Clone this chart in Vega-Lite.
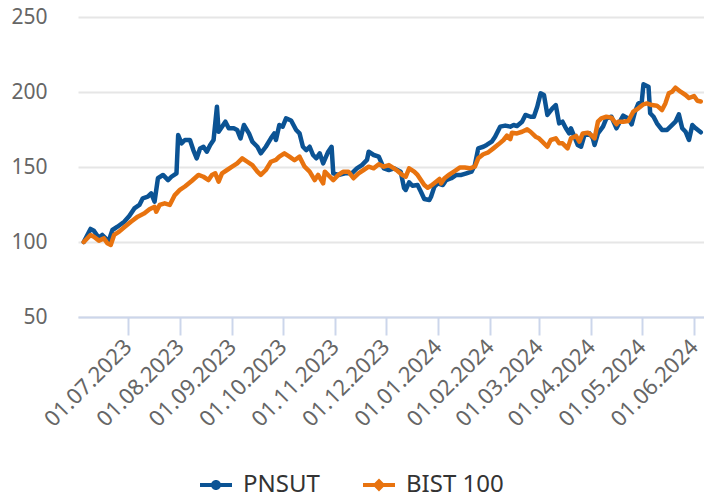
{
  "$schema": "https://vega.github.io/schema/vega-lite/v6.json",
  "width": 626,
  "height": 300,
  "autosize": {"type": "none"},
  "padding": {"left": 78, "top": 17, "right": 0, "bottom": 182},
  "config": {
    "view": {"stroke": null},
    "font": "Noto Sans"
  },
  "datasets": {
    "series": [
      {"s":"PNSUT","d":"2023-06-05","v":100},{"s":"PNSUT","d":"2023-06-09","v":108.7},{"s":"PNSUT","d":"2023-06-11","v":107.5},{"s":"PNSUT","d":"2023-06-14","v":102.7},{"s":"PNSUT","d":"2023-06-16","v":104.7},{"s":"PNSUT","d":"2023-06-18","v":102.4},{"s":"PNSUT","d":"2023-06-20","v":101.3},{"s":"PNSUT","d":"2023-06-22","v":108},{"s":"PNSUT","d":"2023-06-25","v":110.2},{"s":"PNSUT","d":"2023-06-29","v":113.5},{"s":"PNSUT","d":"2023-07-02","v":117.3},{"s":"PNSUT","d":"2023-07-05","v":122.4},{"s":"PNSUT","d":"2023-07-08","v":124.7},{"s":"PNSUT","d":"2023-07-10","v":129.1},{"s":"PNSUT","d":"2023-07-13","v":130.2},{"s":"PNSUT","d":"2023-07-15","v":132.4},{"s":"PNSUT","d":"2023-07-17","v":126.9},{"s":"PNSUT","d":"2023-07-19","v":142.5},{"s":"PNSUT","d":"2023-07-22","v":144.7},{"s":"PNSUT","d":"2023-07-25","v":141.3},{"s":"PNSUT","d":"2023-07-27","v":143.5},{"s":"PNSUT","d":"2023-07-30","v":145.8},{"s":"PNSUT","d":"2023-07-31","v":171.3},{"s":"PNSUT","d":"2023-08-02","v":165.8},{"s":"PNSUT","d":"2023-08-04","v":168},{"s":"PNSUT","d":"2023-08-07","v":168},{"s":"PNSUT","d":"2023-08-09","v":161.3},{"s":"PNSUT","d":"2023-08-11","v":155.8},{"s":"PNSUT","d":"2023-08-13","v":162.4},{"s":"PNSUT","d":"2023-08-15","v":163.5},{"s":"PNSUT","d":"2023-08-17","v":160.2},{"s":"PNSUT","d":"2023-08-19","v":164.7},{"s":"PNSUT","d":"2023-08-21","v":168},{"s":"PNSUT","d":"2023-08-23","v":190.2},{"s":"PNSUT","d":"2023-08-24","v":173.5},{"s":"PNSUT","d":"2023-08-26","v":176.9},{"s":"PNSUT","d":"2023-08-28","v":180.2},{"s":"PNSUT","d":"2023-08-30","v":175.8},{"s":"PNSUT","d":"2023-09-02","v":175.8},{"s":"PNSUT","d":"2023-09-04","v":174.7},{"s":"PNSUT","d":"2023-09-06","v":169.1},{"s":"PNSUT","d":"2023-09-08","v":178},{"s":"PNSUT","d":"2023-09-11","v":172.4},{"s":"PNSUT","d":"2023-09-13","v":166.9},{"s":"PNSUT","d":"2023-09-16","v":163.5},{"s":"PNSUT","d":"2023-09-18","v":159.1},{"s":"PNSUT","d":"2023-09-21","v":163.5},{"s":"PNSUT","d":"2023-09-24","v":169.1},{"s":"PNSUT","d":"2023-09-26","v":172.4},{"s":"PNSUT","d":"2023-09-27","v":168},{"s":"PNSUT","d":"2023-09-29","v":178},{"s":"PNSUT","d":"2023-10-01","v":176.9},{"s":"PNSUT","d":"2023-10-03","v":182.4},{"s":"PNSUT","d":"2023-10-06","v":181},{"s":"PNSUT","d":"2023-10-09","v":174.7},{"s":"PNSUT","d":"2023-10-11","v":172.4},{"s":"PNSUT","d":"2023-10-13","v":163.5},{"s":"PNSUT","d":"2023-10-15","v":161.3},{"s":"PNSUT","d":"2023-10-17","v":163.5},{"s":"PNSUT","d":"2023-10-19","v":158},{"s":"PNSUT","d":"2023-10-21","v":155.8},{"s":"PNSUT","d":"2023-10-23","v":159.1},{"s":"PNSUT","d":"2023-10-25","v":152.4},{"s":"PNSUT","d":"2023-10-28","v":160.2},{"s":"PNSUT","d":"2023-10-30","v":163.5},{"s":"PNSUT","d":"2023-10-31","v":145.8},{"s":"PNSUT","d":"2023-11-03","v":144.7},{"s":"PNSUT","d":"2023-11-07","v":145.8},{"s":"PNSUT","d":"2023-11-11","v":145.8},{"s":"PNSUT","d":"2023-11-14","v":149.1},{"s":"PNSUT","d":"2023-11-17","v":151.3},{"s":"PNSUT","d":"2023-11-20","v":154.7},{"s":"PNSUT","d":"2023-11-21","v":160.2},{"s":"PNSUT","d":"2023-11-24","v":158},{"s":"PNSUT","d":"2023-11-27","v":156.9},{"s":"PNSUT","d":"2023-11-30","v":149.1},{"s":"PNSUT","d":"2023-12-03","v":148},{"s":"PNSUT","d":"2023-12-06","v":149.1},{"s":"PNSUT","d":"2023-12-08","v":148},{"s":"PNSUT","d":"2023-12-10","v":146.9},{"s":"PNSUT","d":"2023-12-12","v":136},{"s":"PNSUT","d":"2023-12-13","v":134.7},{"s":"PNSUT","d":"2023-12-15","v":139.8},{"s":"PNSUT","d":"2023-12-17","v":137.5},{"s":"PNSUT","d":"2023-12-20","v":138},{"s":"PNSUT","d":"2023-12-22","v":133.5},{"s":"PNSUT","d":"2023-12-24","v":128.7},{"s":"PNSUT","d":"2023-12-27","v":128},{"s":"PNSUT","d":"2023-12-28","v":130.2},{"s":"PNSUT","d":"2023-12-30","v":136.9},{"s":"PNSUT","d":"2024-01-01","v":139.1},{"s":"PNSUT","d":"2024-01-04","v":138},{"s":"PNSUT","d":"2024-01-06","v":141.3},{"s":"PNSUT","d":"2024-01-09","v":142.5},{"s":"PNSUT","d":"2024-01-12","v":144.7},{"s":"PNSUT","d":"2024-01-15","v":144.7},{"s":"PNSUT","d":"2024-01-18","v":145.8},{"s":"PNSUT","d":"2024-01-21","v":146.9},{"s":"PNSUT","d":"2024-01-23","v":151.3},{"s":"PNSUT","d":"2024-01-25","v":162.4},{"s":"PNSUT","d":"2024-01-28","v":163.5},{"s":"PNSUT","d":"2024-01-30","v":164.7},{"s":"PNSUT","d":"2024-02-02","v":166.9},{"s":"PNSUT","d":"2024-02-04","v":170.2},{"s":"PNSUT","d":"2024-02-07","v":176.9},{"s":"PNSUT","d":"2024-02-10","v":177.6},{"s":"PNSUT","d":"2024-02-13","v":176.9},{"s":"PNSUT","d":"2024-02-15","v":178},{"s":"PNSUT","d":"2024-02-17","v":177.3},{"s":"PNSUT","d":"2024-02-20","v":180.2},{"s":"PNSUT","d":"2024-02-22","v":184.7},{"s":"PNSUT","d":"2024-02-25","v":183.5},{"s":"PNSUT","d":"2024-02-27","v":183.5},{"s":"PNSUT","d":"2024-02-29","v":190.2},{"s":"PNSUT","d":"2024-03-02","v":199.1},{"s":"PNSUT","d":"2024-03-04","v":198},{"s":"PNSUT","d":"2024-03-06","v":184.7},{"s":"PNSUT","d":"2024-03-09","v":189.1},{"s":"PNSUT","d":"2024-03-11","v":191.3},{"s":"PNSUT","d":"2024-03-13","v":179.1},{"s":"PNSUT","d":"2024-03-15","v":180.2},{"s":"PNSUT","d":"2024-03-17","v":175.8},{"s":"PNSUT","d":"2024-03-19","v":172.4},{"s":"PNSUT","d":"2024-03-20","v":175.8},{"s":"PNSUT","d":"2024-03-22","v":170.2},{"s":"PNSUT","d":"2024-03-24","v":164.7},{"s":"PNSUT","d":"2024-03-26","v":163.5},{"s":"PNSUT","d":"2024-03-28","v":171.3},{"s":"PNSUT","d":"2024-03-31","v":172.4},{"s":"PNSUT","d":"2024-04-02","v":169.1},{"s":"PNSUT","d":"2024-04-03","v":164.7},{"s":"PNSUT","d":"2024-04-05","v":172.4},{"s":"PNSUT","d":"2024-04-08","v":176.9},{"s":"PNSUT","d":"2024-04-10","v":182.4},{"s":"PNSUT","d":"2024-04-13","v":183.5},{"s":"PNSUT","d":"2024-04-16","v":175.8},{"s":"PNSUT","d":"2024-04-18","v":180.2},{"s":"PNSUT","d":"2024-04-20","v":184.2},{"s":"PNSUT","d":"2024-04-23","v":182.4},{"s":"PNSUT","d":"2024-04-25","v":178.4},{"s":"PNSUT","d":"2024-04-27","v":186.9},{"s":"PNSUT","d":"2024-04-29","v":192.4},{"s":"PNSUT","d":"2024-05-01","v":193.5},{"s":"PNSUT","d":"2024-05-02","v":205.1},{"s":"PNSUT","d":"2024-05-05","v":203.5},{"s":"PNSUT","d":"2024-05-06","v":185.8},{"s":"PNSUT","d":"2024-05-08","v":183.5},{"s":"PNSUT","d":"2024-05-10","v":179.1},{"s":"PNSUT","d":"2024-05-13","v":174.7},{"s":"PNSUT","d":"2024-05-16","v":174.7},{"s":"PNSUT","d":"2024-05-18","v":176.9},{"s":"PNSUT","d":"2024-05-21","v":180.2},{"s":"PNSUT","d":"2024-05-23","v":185.1},{"s":"PNSUT","d":"2024-05-25","v":175.8},{"s":"PNSUT","d":"2024-05-27","v":173.5},{"s":"PNSUT","d":"2024-05-29","v":168},{"s":"PNSUT","d":"2024-05-31","v":178},{"s":"PNSUT","d":"2024-06-02","v":175.8},{"s":"PNSUT","d":"2024-06-05","v":173.1},
      {"s":"BIST 100","d":"2023-06-05","v":100},{"s":"BIST 100","d":"2023-06-09","v":104.7},{"s":"BIST 100","d":"2023-06-11","v":103.5},{"s":"BIST 100","d":"2023-06-14","v":100.9},{"s":"BIST 100","d":"2023-06-17","v":102.4},{"s":"BIST 100","d":"2023-06-19","v":99.1},{"s":"BIST 100","d":"2023-06-21","v":98},{"s":"BIST 100","d":"2023-06-23","v":104.7},{"s":"BIST 100","d":"2023-06-26","v":106.9},{"s":"BIST 100","d":"2023-06-29","v":109.8},{"s":"BIST 100","d":"2023-07-03","v":113.5},{"s":"BIST 100","d":"2023-07-07","v":116.9},{"s":"BIST 100","d":"2023-07-11","v":119.1},{"s":"BIST 100","d":"2023-07-14","v":121.8},{"s":"BIST 100","d":"2023-07-17","v":123.5},{"s":"BIST 100","d":"2023-07-18","v":120.2},{"s":"BIST 100","d":"2023-07-20","v":124.7},{"s":"BIST 100","d":"2023-07-23","v":125.8},{"s":"BIST 100","d":"2023-07-26","v":124.7},{"s":"BIST 100","d":"2023-07-29","v":131.3},{"s":"BIST 100","d":"2023-08-01","v":134.7},{"s":"BIST 100","d":"2023-08-04","v":137},{"s":"BIST 100","d":"2023-08-08","v":140.7},{"s":"BIST 100","d":"2023-08-12","v":144.7},{"s":"BIST 100","d":"2023-08-15","v":143.5},{"s":"BIST 100","d":"2023-08-18","v":141.3},{"s":"BIST 100","d":"2023-08-20","v":144.7},{"s":"BIST 100","d":"2023-08-22","v":145.8},{"s":"BIST 100","d":"2023-08-24","v":140.2},{"s":"BIST 100","d":"2023-08-26","v":145.8},{"s":"BIST 100","d":"2023-08-29","v":148},{"s":"BIST 100","d":"2023-09-01","v":150.2},{"s":"BIST 100","d":"2023-09-04","v":152.4},{"s":"BIST 100","d":"2023-09-07","v":155.8},{"s":"BIST 100","d":"2023-09-10","v":153.5},{"s":"BIST 100","d":"2023-09-13","v":151.3},{"s":"BIST 100","d":"2023-09-16","v":146.9},{"s":"BIST 100","d":"2023-09-18","v":144.7},{"s":"BIST 100","d":"2023-09-21","v":148},{"s":"BIST 100","d":"2023-09-24","v":153.5},{"s":"BIST 100","d":"2023-09-27","v":154.7},{"s":"BIST 100","d":"2023-09-29","v":156.9},{"s":"BIST 100","d":"2023-10-02","v":159.1},{"s":"BIST 100","d":"2023-10-05","v":156.9},{"s":"BIST 100","d":"2023-10-08","v":154.5},{"s":"BIST 100","d":"2023-10-11","v":156.9},{"s":"BIST 100","d":"2023-10-14","v":150.2},{"s":"BIST 100","d":"2023-10-17","v":146.9},{"s":"BIST 100","d":"2023-10-20","v":141.3},{"s":"BIST 100","d":"2023-10-22","v":144.7},{"s":"BIST 100","d":"2023-10-25","v":139.1},{"s":"BIST 100","d":"2023-10-26","v":146.9},{"s":"BIST 100","d":"2023-10-29","v":143.5},{"s":"BIST 100","d":"2023-10-31","v":141.3},{"s":"BIST 100","d":"2023-11-03","v":144.7},{"s":"BIST 100","d":"2023-11-06","v":146.9},{"s":"BIST 100","d":"2023-11-09","v":146.9},{"s":"BIST 100","d":"2023-11-12","v":142.5},{"s":"BIST 100","d":"2023-11-15","v":145.8},{"s":"BIST 100","d":"2023-11-18","v":148},{"s":"BIST 100","d":"2023-11-21","v":150.2},{"s":"BIST 100","d":"2023-11-24","v":149.1},{"s":"BIST 100","d":"2023-11-27","v":151.8},{"s":"BIST 100","d":"2023-11-30","v":150.2},{"s":"BIST 100","d":"2023-12-03","v":151.3},{"s":"BIST 100","d":"2023-12-06","v":149.1},{"s":"BIST 100","d":"2023-12-08","v":147.5},{"s":"BIST 100","d":"2023-12-11","v":144.7},{"s":"BIST 100","d":"2023-12-13","v":143.5},{"s":"BIST 100","d":"2023-12-15","v":149.1},{"s":"BIST 100","d":"2023-12-18","v":146.9},{"s":"BIST 100","d":"2023-12-20","v":144.7},{"s":"BIST 100","d":"2023-12-22","v":141.3},{"s":"BIST 100","d":"2023-12-24","v":138},{"s":"BIST 100","d":"2023-12-26","v":136.2},{"s":"BIST 100","d":"2023-12-28","v":137.5},{"s":"BIST 100","d":"2023-12-31","v":140.2},{"s":"BIST 100","d":"2024-01-02","v":142},{"s":"BIST 100","d":"2024-01-03","v":139.1},{"s":"BIST 100","d":"2024-01-05","v":142.5},{"s":"BIST 100","d":"2024-01-08","v":145.1},{"s":"BIST 100","d":"2024-01-11","v":147.3},{"s":"BIST 100","d":"2024-01-14","v":149.6},{"s":"BIST 100","d":"2024-01-17","v":149.6},{"s":"BIST 100","d":"2024-01-20","v":149.1},{"s":"BIST 100","d":"2024-01-23","v":150.2},{"s":"BIST 100","d":"2024-01-25","v":155.8},{"s":"BIST 100","d":"2024-01-28","v":158.5},{"s":"BIST 100","d":"2024-01-31","v":159.8},{"s":"BIST 100","d":"2024-02-03","v":162.4},{"s":"BIST 100","d":"2024-02-06","v":165.1},{"s":"BIST 100","d":"2024-02-09","v":168},{"s":"BIST 100","d":"2024-02-11","v":170.9},{"s":"BIST 100","d":"2024-02-13","v":168.6},{"s":"BIST 100","d":"2024-02-14","v":172.9},{"s":"BIST 100","d":"2024-02-17","v":172.4},{"s":"BIST 100","d":"2024-02-20","v":173.5},{"s":"BIST 100","d":"2024-02-23","v":175.1},{"s":"BIST 100","d":"2024-02-25","v":173.5},{"s":"BIST 100","d":"2024-02-28","v":170.2},{"s":"BIST 100","d":"2024-03-01","v":169.1},{"s":"BIST 100","d":"2024-03-03","v":166.9},{"s":"BIST 100","d":"2024-03-06","v":163.5},{"s":"BIST 100","d":"2024-03-08","v":168},{"s":"BIST 100","d":"2024-03-11","v":169.1},{"s":"BIST 100","d":"2024-03-13","v":165.8},{"s":"BIST 100","d":"2024-03-15","v":165.8},{"s":"BIST 100","d":"2024-03-18","v":162.4},{"s":"BIST 100","d":"2024-03-20","v":169.1},{"s":"BIST 100","d":"2024-03-23","v":170.7},{"s":"BIST 100","d":"2024-03-25","v":166.9},{"s":"BIST 100","d":"2024-03-27","v":172.4},{"s":"BIST 100","d":"2024-03-30","v":172.9},{"s":"BIST 100","d":"2024-04-01","v":171.3},{"s":"BIST 100","d":"2024-04-03","v":169.1},{"s":"BIST 100","d":"2024-04-05","v":180.2},{"s":"BIST 100","d":"2024-04-07","v":182.4},{"s":"BIST 100","d":"2024-04-10","v":183.5},{"s":"BIST 100","d":"2024-04-13","v":182.9},{"s":"BIST 100","d":"2024-04-16","v":178.5},{"s":"BIST 100","d":"2024-04-17","v":180.2},{"s":"BIST 100","d":"2024-04-20","v":180.2},{"s":"BIST 100","d":"2024-04-23","v":180.7},{"s":"BIST 100","d":"2024-04-26","v":186.9},{"s":"BIST 100","d":"2024-04-29","v":189.1},{"s":"BIST 100","d":"2024-05-02","v":191.8},{"s":"BIST 100","d":"2024-05-04","v":192.4},{"s":"BIST 100","d":"2024-05-07","v":191.3},{"s":"BIST 100","d":"2024-05-10","v":190.9},{"s":"BIST 100","d":"2024-05-13","v":188},{"s":"BIST 100","d":"2024-05-15","v":192.4},{"s":"BIST 100","d":"2024-05-17","v":199.1},{"s":"BIST 100","d":"2024-05-19","v":200.2},{"s":"BIST 100","d":"2024-05-21","v":202.9},{"s":"BIST 100","d":"2024-05-24","v":200.2},{"s":"BIST 100","d":"2024-05-27","v":198},{"s":"BIST 100","d":"2024-05-29","v":196},{"s":"BIST 100","d":"2024-06-01","v":197.3},{"s":"BIST 100","d":"2024-06-03","v":194.2},{"s":"BIST 100","d":"2024-06-05","v":193.7}
    ]
  },
  "data": {"name": "series"},
  "encoding": {
    "x": {
      "field": "d",
      "type": "temporal",
      "title": null,
      "scale": {
        "type": "utc",
        "domain": [
          {"year": 2023, "month": 6, "date": 1, "hours": 14, "utc": true},
          {"year": 2024, "month": 6, "date": 6, "hours": 22, "utc": true}
        ]
      },
      "axis": {
        "values": [
          {"year": 2023, "month": 7, "date": 1, "utc": true},
          {"year": 2023, "month": 8, "date": 1, "utc": true},
          {"year": 2023, "month": 9, "date": 1, "utc": true},
          {"year": 2023, "month": 10, "date": 1, "utc": true},
          {"year": 2023, "month": 11, "date": 1, "utc": true},
          {"year": 2023, "month": 12, "date": 1, "utc": true},
          {"year": 2024, "month": 1, "date": 1, "utc": true},
          {"year": 2024, "month": 2, "date": 1, "utc": true},
          {"year": 2024, "month": 3, "date": 1, "utc": true},
          {"year": 2024, "month": 4, "date": 1, "utc": true},
          {"year": 2024, "month": 5, "date": 1, "utc": true},
          {"year": 2024, "month": 6, "date": 1, "utc": true}
        ],
        "labelExpr": "utcFormat(datum.value, '%d.%m.%Y')",
        "grid": false,
        "domainColor": "#ccd6eb",
        "domainWidth": 2,
        "tickColor": "#ccd6eb",
        "tickWidth": 2,
        "tickSize": 18,
        "labelAngle": -45,
        "labelAlign": "right",
        "labelBaseline": "middle",
        "labelPadding": 8,
        "labelFont": "Noto Sans",
        "labelFontSize": 22,
        "labelColor": "#666666",
        "labelOverlap": false,
        "labelFlush": false
      }
    },
    "y": {
      "field": "v",
      "type": "quantitative",
      "title": null,
      "scale": {"domain": [50, 250], "nice": false, "zero": false},
      "axis": {
        "values": [50, 100, 150, 200, 250],
        "domain": false,
        "ticks": false,
        "tickSize": 0,
        "gridColor": "#e6e6e6",
        "gridWidth": 2,
        "labelPadding": 31,
        "labelFont": "Noto Sans",
        "labelFontSize": 21,
        "labelColor": "#666666"
      }
    }
  },
  "layer": [
    {
      "transform": [{"filter": "datum.s === 'PNSUT'"}],
      "mark": {"type": "line", "strokeWidth": 4.5, "strokeJoin": "round", "strokeCap": "round"},
      "encoding": {
        "stroke": {
          "field": "s",
          "type": "nominal",
          "scale": {"domain": ["BIST 100", "PNSUT"], "range": ["#e8730f", "#0b5394"]},
          "legend": null
        }
      }
    },
    {
      "transform": [{"filter": "datum.s === 'BIST 100'"}],
      "mark": {"type": "line", "strokeWidth": 4.5, "strokeJoin": "round", "strokeCap": "round"},
      "encoding": {
        "stroke": {
          "field": "s",
          "type": "nominal",
          "scale": {"domain": ["BIST 100", "PNSUT"], "range": ["#e8730f", "#0b5394"]},
          "legend": null
        }
      }
    },
    {
      "transform": [{"filter": "false"}],
      "mark": {"type": "point", "filled": true, "opacity": 1},
      "encoding": {
        "color": {
          "field": "s",
          "type": "nominal",
          "scale": {"domain": ["PNSUT", "BIST 100"], "range": ["#0b5394", "#e8730f"]},
          "legend": {
            "title": null,
            "orient": "none",
            "legendX": 122,
            "legendY": 452,
            "direction": "horizontal",
            "symbolSize": 1024,
            "symbolStrokeWidth": 0,
            "labelFont": "Noto Sans",
            "labelFontSize": 24,
            "labelColor": "#333333",
            "labelOffset": 11,
            "columnPadding": 43
          }
        },
        "shape": {
          "field": "s",
          "type": "nominal",
          "scale": {
            "domain": ["PNSUT", "BIST 100"],
            "range": [
              "M-1,-0.125H1V0.125H-1Z M0.3125,0A0.3125,0.3125,0,1,1,-0.3125,0A0.3125,0.3125,0,1,1,0.3125,0Z",
              "M-1,-0.125H1V0.125H-1Z M0,-0.4L0.4,0L0,0.4L-0.4,0Z"
            ]
          },
          "legend": {
            "title": null,
            "orient": "none",
            "legendX": 122,
            "legendY": 452,
            "direction": "horizontal",
            "symbolSize": 1024,
            "symbolStrokeWidth": 0,
            "labelFont": "Noto Sans",
            "labelFontSize": 24,
            "labelColor": "#333333",
            "labelOffset": 11,
            "columnPadding": 43
          }
        }
      }
    }
  ]
}
